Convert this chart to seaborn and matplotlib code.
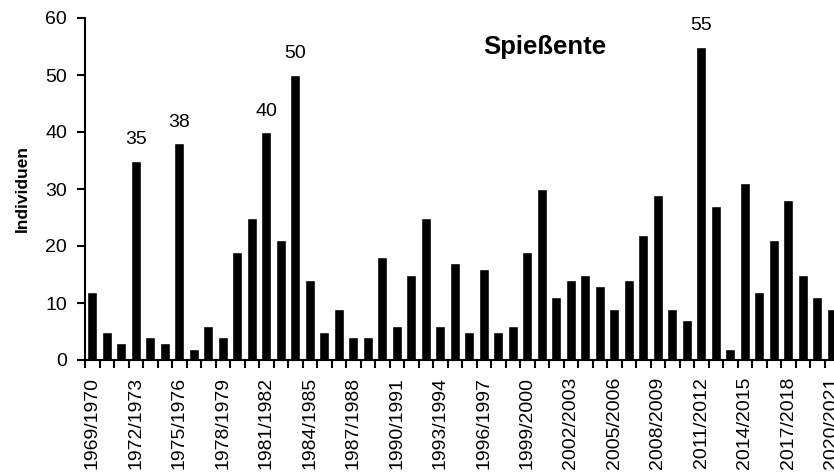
import numpy as np
import pandas as pd
import matplotlib
matplotlib.use('Agg')
import matplotlib.pyplot as plt
import seaborn as sns

# Winterhalbjahre 1969/1970 bis 2020/2021
start_years = list(range(1969, 2021))
seasons = [f'{y}/{y + 1}' for y in start_years]

# Individuen je Saison
individuen = [12, 5, 3, 35, 4, 3, 38, 2, 6, 4,
              19, 25, 40, 21, 50, 14, 5, 9, 4, 4,
              18, 6, 15, 25, 6, 17, 5, 16, 5, 6,
              19, 30, 11, 14, 15, 13, 9, 14, 22, 29,
              9, 7, 55, 27, 2, 31, 12, 21, 28, 15,
              11, 9]

# Werte mit Beschriftung
labeled = [35, 38, 40, 50, 55]

df = pd.DataFrame({'saison': seasons, 'individuen': individuen})

sns.set_style('ticks')
plt.rcParams['font.family'] = ['Liberation Sans', 'DejaVu Sans']
plt.rcParams['text.color'] = 'black'
plt.rcParams['axes.labelcolor'] = 'black'
plt.rcParams['xtick.color'] = 'black'
plt.rcParams['ytick.color'] = 'black'
plt.rcParams['axes.edgecolor'] = 'black'

fig = plt.figure(figsize=(8.34, 4.75), dpi=100)
ax = fig.add_axes([85 / 834, 115 / 475, 754 / 834, 342 / 475])

sns.barplot(data=df, x='saison', y='individuen', color='black',
            saturation=1, width=0.68, ax=ax)

# Zahlen über den Spitzenwerten
for i, v in enumerate(individuen):
    if v in labeled:
        ax.annotate(str(v), (i, v), xytext=(0, 9), textcoords='offset points',
                    ha='center', va='bottom', fontsize=14, color='black')

ax.set_xlim(-0.5, len(seasons) - 0.5)
ax.set_ylim(0, 60)
ax.set_yticks(range(0, 61, 10))

# Beschriftung jede dritte Saison, Striche zwischen den Balken
pos = np.arange(len(seasons))
ax.set_xticks(pos[::3])
ax.set_xticklabels(seasons[::3], rotation=90, fontsize=14)
ax.set_xticks(pos - 0.5, minor=True)
ax.tick_params(axis='x', which='major', length=0, pad=12)
ax.tick_params(axis='x', which='minor', length=6, width=1.5, color='black', direction='out')
ax.tick_params(axis='y', length=6, width=1.5, color='black', pad=7, labelsize=14)

ax.set_xlabel('')
ax.set_ylabel('Individuen', fontsize=12.5, fontweight='bold', labelpad=11)

sns.despine(ax=ax)
ax.spines['left'].set_linewidth(1.5)
ax.spines['bottom'].set_linewidth(1.5)

ax.text(545 / 834, 1 - 47 / 475, 'Spießente', transform=fig.transFigure,
        ha='center', va='center', fontsize=18.5, fontweight='bold')

fig.savefig('out.png', dpi=100)
